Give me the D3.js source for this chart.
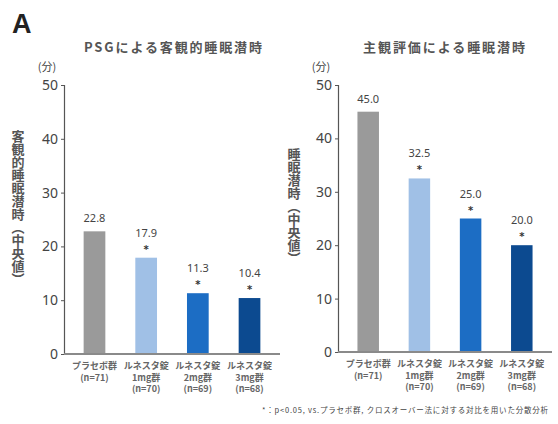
<!DOCTYPE html>
<html>
<head>
<meta charset="utf-8">
<script src="https://cdn.jsdelivr.net/npm/d3@7"></script>
<style>
  body { margin: 0; background: #fff; }
  svg { font-family: "Noto Sans CJK JP", "Noto Sans", sans-serif; }
  .axis text { font-family: "Noto Sans", "DejaVu Sans", sans-serif; font-size: 14px; fill: #444; }
  .axis path, .axis line { stroke: #555; }
  .vlabel { writing-mode: vertical-rl; text-orientation: upright; }
</style>
</head>
<body>
<svg id="chart" width="558" height="424"></svg>
<script>
var groups = ["プラセボ群", "ルネスタ錠1mg群", "ルネスタ錠2mg群", "ルネスタ錠3mg群"];
var groupLines = [
  ["プラセボ群", "(n=71)"],
  ["ルネスタ錠", "1mg群", "(n=70)"],
  ["ルネスタ錠", "2mg群", "(n=69)"],
  ["ルネスタ錠", "3mg群", "(n=68)"]
];
var colors = ["#9a9a9a", "#a0c0e6", "#1c6dc4", "#0c4a90"];
var psgValues = [22.8, 17.9, 11.3, 10.4];
var subjValues = [45.0, 32.5, 25.0, 20.0];
var significant = [false, true, true, true];
var yTicks = [0, 10, 20, 30, 40, 50];

var panels = [
  {title: "PSGによる客観的睡眠潜時", ylabel: "客観的睡眠潜時（中央値）", values: psgValues,
   x0: 64, x1: 280, yTop: 85, yBottom: 354, titleX: 173, titleLen: 178, yLabelX: 18, yLabelMid: 208},
  {title: "主観評価による睡眠潜時", ylabel: "睡眠潜時（中央値）", values: subjValues,
   x0: 338, x1: 552, yTop: 85, yBottom: 352, titleX: 444, titleLen: 162, yLabelX: 294, yLabelMid: 206}
];

var svg = d3.select("#chart");

svg.append("text")
    .attr("x", 12).attr("y", 33)
    .style("font-family", "'Liberation Sans', Arial, sans-serif")
    .style("font-size", "27px")
    .style("font-weight", "bold")
    .style("fill", "#222")
    .text("A");

panels.forEach(function(p) {
  var x = d3.scaleBand()
      .domain(groups)
      .range([p.x0, p.x1])
      .paddingInner(0.58)
      .paddingOuter(0.38);
  var y = d3.scaleLinear()
      .domain([0, 50])
      .range([p.yBottom, p.yTop]);

  // title
  svg.append("text")
      .attr("x", p.titleX).attr("y", 52)
      .attr("text-anchor", "middle")
      .attr("textLength", p.titleLen)
      .style("font-size", "13px")
      .style("font-weight", "bold")
      .style("fill", "#555")
      .text(p.title);

  // unit
  svg.append("text")
      .attr("x", p.x0 - 17).attr("y", p.yTop - 14)
      .attr("text-anchor", "middle")
      .style("font-size", "11px")
      .style("fill", "#444")
      .text("(分)");

  // vertical y label
  svg.append("text")
      .attr("class", "vlabel")
      .attr("x", p.yLabelX).attr("y", p.yLabelMid)
      .attr("text-anchor", "middle")
      .style("font-size", "13px")
      .style("font-weight", "bold")
      .style("fill", "#555")
      .text(p.ylabel);

  // y axis
  svg.append("g")
      .attr("class", "axis")
      .attr("transform", "translate(" + p.x0 + ",0)")
      .call(d3.axisLeft(y).tickValues(yTicks).tickSize(3).tickPadding(3).tickFormat(d3.format("d")))
      .call(function(g) { g.select(".domain").attr("stroke-width", 1.2); });

  // bars
  svg.append("g").selectAll("rect")
      .data(p.values)
      .enter().append("rect")
      .attr("x", function(d, i) { return x(groups[i]); })
      .attr("y", function(d) { return y(d); })
      .attr("width", x.bandwidth())
      .attr("height", function(d) { return y(0) - y(d); })
      .attr("fill", function(d, i) { return colors[i]; });

  // baseline
  svg.append("line")
      .attr("x1", p.x0).attr("x2", p.x1)
      .attr("y1", y(0)).attr("y2", y(0))
      .attr("stroke", "#8a8a8a")
      .attr("stroke-width", 2);

  // value labels and asterisks
  var lab = svg.append("g").selectAll("g")
      .data(p.values)
      .enter().append("g")
      .attr("transform", function(d, i) {
        return "translate(" + (x(groups[i]) + x.bandwidth() / 2) + "," + y(d) + ")";
      });
  lab.append("text")
      .attr("y", function(d, i) { return significant[i] ? -21 : -9; })
      .attr("text-anchor", "middle")
      .style("font-family", "'Noto Sans', sans-serif")
      .style("font-size", "11px")
      .style("fill", "#444")
      .text(function(d) { return d.toFixed(1); });
  lab.filter(function(d, i) { return significant[i]; })
      .append("text")
      .attr("y", -5)
      .attr("text-anchor", "middle")
      .style("font-family", "'DejaVu Sans', sans-serif")
      .style("font-size", "10px")
      .style("font-weight", "bold")
      .style("fill", "#333")
      .text("*");

  // category labels
  var cat = svg.append("g").selectAll("text")
      .data(groupLines)
      .enter().append("text")
      .attr("text-anchor", "middle")
      .attr("x", function(d, i) { return x(groups[i]) + x.bandwidth() / 2; })
      .attr("y", y(0) + 15)
      .style("font-size", "9px")
      .style("font-weight", "bold")
      .style("fill", "#666");
  cat.selectAll("tspan")
      .data(function(d) { return d; })
      .enter().append("tspan")
      .attr("x", function() { return d3.select(this.parentNode).attr("x"); })
      .attr("dy", function(d, j) { return j === 0 ? 0 : 11.5; })
      .text(function(d) { return d; });
});

// footnote
svg.append("text")
    .attr("x", 548).attr("y", 413)
    .attr("text-anchor", "end")
    .attr("textLength", 286)
    .style("font-size", "7.5px")
    .style("fill", "#444")
    .text("*：p<0.05, vs.プラセボ群, クロスオーバー法に対する対比を用いた分散分析");
</script>
</body>
</html>
